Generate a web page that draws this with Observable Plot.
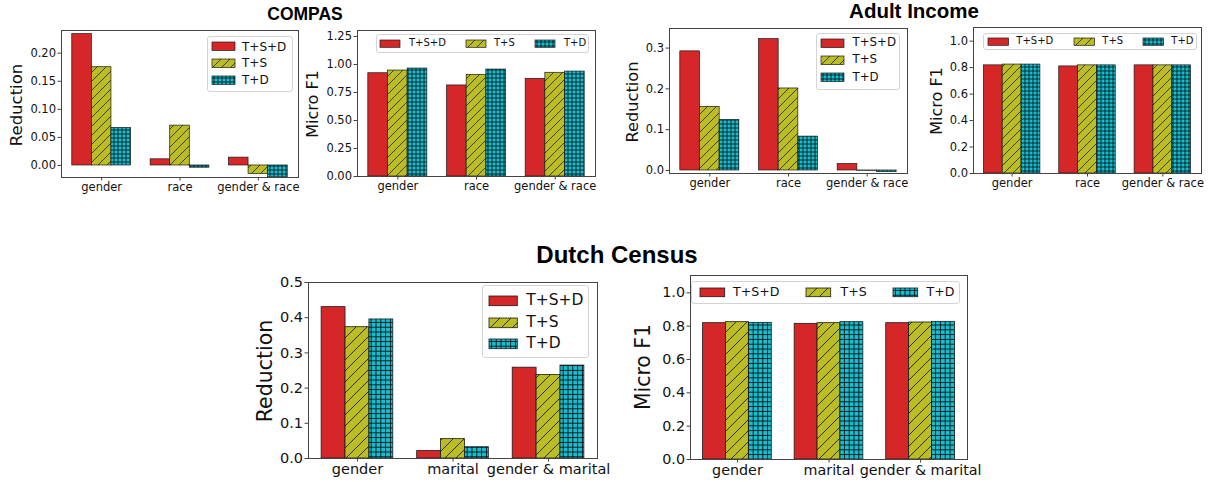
<!DOCTYPE html>
<html><head><meta charset="utf-8">
<script src="https://cdn.jsdelivr.net/npm/d3@7"></script>
<script src="https://cdn.jsdelivr.net/npm/@observablehq/plot@0.6"></script>
<style>
body{margin:0;background:#fff;}
#fig{position:relative;width:1210px;height:482px;overflow:hidden;font-family:"DejaVu Sans",sans-serif;color:#111;}
.plot{position:absolute;}
.title{position:absolute;font-family:"Liberation Sans",Arial,sans-serif;font-weight:bold;transform:translate(-50%,-50%);white-space:nowrap;color:#000;line-height:1;}
.ylab{position:absolute;transform:translate(-50%,-50%) rotate(-90deg);white-space:nowrap;color:#111;line-height:1;}
.legend{position:absolute;box-sizing:border-box;border:1px solid #d4d4d4;border-radius:3px;background:rgba(255,255,255,0.85);}
.legend svg{position:absolute;overflow:visible;}
.legend .t{position:absolute;transform:translateY(-50%);white-space:nowrap;line-height:1;color:#111;}
</style></head><body>
<svg width="0" height="0" style="position:absolute">
<defs>
<pattern id="hatchS" patternUnits="userSpaceOnUse" width="9" height="9"><rect width="9" height="9" fill="#bcbd22"/><path d="M0,9L9,0M-4.5,4.5L4.5,-4.5M4.5,13.5L13.5,4.5" stroke="#111" stroke-width="0.75"/></pattern>
<pattern id="gridS" patternUnits="userSpaceOnUse" width="4" height="4"><rect width="4" height="4" fill="#17becf"/><path d="M0,2H4M2,0V4" stroke="#000" stroke-width="0.75"/></pattern>
<pattern id="hatchL" patternUnits="userSpaceOnUse" width="11" height="11"><rect width="11" height="11" fill="#bcbd22"/><path d="M0,11L11,0M-5.5,5.5L5.5,-5.5M5.5,16.5L16.5,5.5" stroke="#111" stroke-width="0.85"/></pattern>
<pattern id="gridL" patternUnits="userSpaceOnUse" width="4.8" height="4.8"><rect width="4.8" height="4.8" fill="#17becf"/><path d="M0,2.4H4.8M2.4,0V4.8" stroke="#000" stroke-width="0.8"/></pattern>
</defs></svg>
<div id="fig"></div>
<script>
// ---------- data ----------
const series = ["T+S+D", "T+S", "T+D"];
const compasCats = ["gender", "race", "gender & race"];
const adultCats = ["gender", "race", "gender & race"];
const dutchCats = ["gender", "marital", "gender & marital"];

// rows: T+S+D, T+S, T+D ; columns follow the category arrays
const compasReduction = [[0.234, 0.011, 0.014], [0.175, 0.071, -0.015], [0.067, -0.004, -0.021]];
const compasF1 = [[0.922, 0.813, 0.872], [0.946, 0.908, 0.926], [0.964, 0.955, 0.937]];
const adultReduction = [[0.292, 0.322, 0.016], [0.156, 0.201, -0.001], [0.124, 0.083, -0.004]];
const adultF1 = [[0.817, 0.809, 0.817], [0.823, 0.817, 0.817], [0.823, 0.817, 0.817]];
const dutchReduction = [[0.430, 0.021, 0.258], [0.373, 0.055, 0.237], [0.395, 0.032, 0.264]];
const dutchF1 = [[0.818, 0.814, 0.818], [0.824, 0.818, 0.822], [0.820, 0.824, 0.826]];

const ticksRedCompas = [0, 0.05, 0.10, 0.15, 0.20];
const ticksF1Compas = [0, 0.25, 0.5, 0.75, 1.0, 1.25];
const ticksRedAdult = [0, 0.1, 0.2, 0.3];
const ticksF1 = [0, 0.2, 0.4, 0.6, 0.8, 1.0];
const ticksRedDutch = [0, 0.1, 0.2, 0.3, 0.4, 0.5];

// ---------- drawing ----------
const fig = document.getElementById("fig");
const barW = 0.25;
const xDomain = [-0.5125, 2.5125];

function chart(c) {
  const small = c.size === "S";
  const fills = ["#d62728", small ? "url(#hatchS)" : "url(#hatchL)", small ? "url(#gridS)" : "url(#gridL)"];
  const marks = [];
  c.values.forEach((vals, j) => {
    const rows = vals.map((v, i) => ({v, x1: i + (j - 1) * barW - barW / 2, x2: i + (j - 1) * barW + barW / 2}));
    marks.push(Plot.rect(rows, {x1: "x1", x2: "x2", y1: 0, y2: "v", fill: fills[j], stroke: "#1a1a1a", strokeWidth: small ? 0.7 : 0.8}));
  });
  marks.push(Plot.frame({stroke: "#444", strokeWidth: 1}));
  marks.push(Plot.axisX({ticks: [0, 1, 2], tickFormat: i => c.cats[i], tickSize: 3.5, tickPadding: 2, label: null, stroke: "#444"}));
  marks.push(Plot.axisY({ticks: c.ticks, tickFormat: d3.format(c.fmt), tickSize: 3.5, tickPadding: 2, label: null, stroke: "#444"}));
  const [fl, ft, fr, fb] = c.frame;
  const [sl, st, sw, sh] = c.box;
  const svg = Plot.plot({
    width: sw, height: sh,
    marginLeft: fl - sl, marginTop: ft - st, marginRight: sl + sw - fr, marginBottom: st + sh - fb,
    x: {type: "linear", domain: xDomain, axis: null},
    y: {type: "linear", domain: c.yDomain, axis: null},
    style: {fontFamily: "DejaVu Sans, sans-serif", fontSize: c.tickFont + "px", color: "#111", background: "transparent", overflow: "visible"},
    marks
  });
  svg.classList.add("plot");
  svg.style.left = sl + "px";
  svg.style.top = st + "px";
  fig.appendChild(svg);

  const yl = document.createElement("div");
  yl.className = "ylab";
  yl.textContent = c.ylabel;
  yl.style.left = c.ylab[0] + "px";
  yl.style.top = c.ylab[1] + "px";
  yl.style.fontSize = c.ylab[2] + "px";
  fig.appendChild(yl);

  legend(c.legend, fills, small);
}

function legend(L, fills, small) {
  const box = document.createElement("div");
  box.className = "legend";
  Object.assign(box.style, {left: L.box[0] + "px", top: L.box[1] + "px", width: L.box[2] + "px", height: L.box[3] + "px"});
  series.forEach((s, k) => {
    const hx = L.vertical ? L.hx : L.hx[k];
    const cy = L.vertical ? L.rows[k] : L.row;
    const tx = L.vertical ? L.tx : L.tx[k];
    const ns = "http://www.w3.org/2000/svg";
    const sv = document.createElementNS(ns, "svg");
    sv.setAttribute("width", L.hw); sv.setAttribute("height", L.hh);
    sv.style.left = hx + "px"; sv.style.top = (cy - L.hh / 2) + "px";
    const r = document.createElementNS(ns, "rect");
    r.setAttribute("x", 0); r.setAttribute("y", 0);
    r.setAttribute("width", L.hw); r.setAttribute("height", L.hh);
    r.setAttribute("fill", fills[k]); r.setAttribute("stroke", "#1a1a1a"); r.setAttribute("stroke-width", small ? 0.7 : 0.8);
    sv.appendChild(r);
    box.appendChild(sv);
    const t = document.createElement("div");
    t.className = "t";
    t.textContent = s;
    Object.assign(t.style, {left: tx + "px", top: cy + "px", fontSize: L.font + "px"});
    box.appendChild(t);
  });
  fig.appendChild(box);
}

function title(text, x, y, size) {
  const d = document.createElement("div");
  d.className = "title";
  d.textContent = text;
  Object.assign(d.style, {left: x + "px", top: y + "px", fontSize: size + "px"});
  fig.appendChild(d);
}

title("COMPAS", 305, 15, 17.5);
title("Adult Income", 914, 11, 20.5);
title("Dutch Census", 617, 255, 24);

chart({size: "S", cats: compasCats, values: compasReduction, ticks: ticksRedCompas, fmt: ".2f",
  frame: [61, 30, 298, 177], box: [0, 20, 305, 180], yDomain: [-0.0214, 0.2404], tickFont: 11.5,
  ylabel: "Reduction", ylab: [17, 105, 16.5],
  legend: {vertical: true, box: [207, 36, 86, 56], hx: 4, hw: 23, hh: 8.5, rows: [9.5, 26, 43], tx: 34, font: 12}});

chart({size: "S", cats: compasCats, values: compasF1, ticks: ticksF1Compas, fmt: ".2f",
  frame: [357, 30, 595, 176], box: [318, 20, 282, 180], yDomain: [0, 1.3036], tickFont: 11.5,
  ylabel: "Micro F1", ylab: [313, 104, 16],
  legend: {vertical: false, box: [376, 34, 213, 18.5], hx: [3, 89, 158], hw: 20, hh: 7.3, row: 8.3, tx: [32, 117, 187], font: 10}});

chart({size: "S", cats: adultCats, values: adultReduction, ticks: ticksRedAdult, fmt: ".1f",
  frame: [669, 28, 907, 173], box: [625, 18, 287, 177], yDomain: [-0.0074, 0.348], tickFont: 11.5,
  ylabel: "Reduction", ylab: [633, 102, 16.2],
  legend: {vertical: true, box: [815.5, 33, 84.5, 57], hx: 4, hw: 23, hh: 8.5, rows: [9, 26.3, 43.5], tx: 36, font: 11.8}});

chart({size: "S", cats: adultCats, values: adultF1, ticks: ticksF1, fmt: ".1f",
  frame: [973, 27, 1201, 173], box: [935, 17, 273, 178], yDomain: [0, 1.103], tickFont: 11.5,
  ylabel: "Micro F1", ylab: [937, 101, 16],
  legend: {vertical: false, box: [983.3, 33.3, 213.4, 16.5], hx: [3.5, 89.5, 158.5], hw: 20.5, hh: 7.3, row: 7.2, tx: [32, 118, 187], font: 10}});

chart({size: "L", cats: dutchCats, values: dutchReduction, ticks: ticksRedDutch, fmt: ".1f",
  frame: [308, 282, 597, 458], box: [268, 272, 347, 210], yDomain: [0, 0.5], tickFont: 14.5,
  ylabel: "Reduction", ylab: [265, 371, 20.5],
  legend: {vertical: true, box: [482.3, 285, 106.7, 72.7], hx: 5.5, hw: 28.3, hh: 9.7, rows: [15, 36.6, 58.3], tx: 43, font: 15.5}});

chart({size: "L", cats: dutchCats, values: dutchF1, ticks: ticksF1, fmt: ".1f",
  frame: [690, 275, 967, 459], box: [650, 265, 337, 217], yDomain: [0, 1.104], tickFont: 14.3,
  ylabel: "Micro F1", ylab: [643, 367, 20.4],
  legend: {vertical: false, box: [691, 280.7, 269, 23.3], hx: [7.5, 113.5, 200.5], hw: 24.7, hh: 8.7, row: 10.6, tx: [41, 148.5, 234.5], font: 12.6}});
</script>
</body></html>
